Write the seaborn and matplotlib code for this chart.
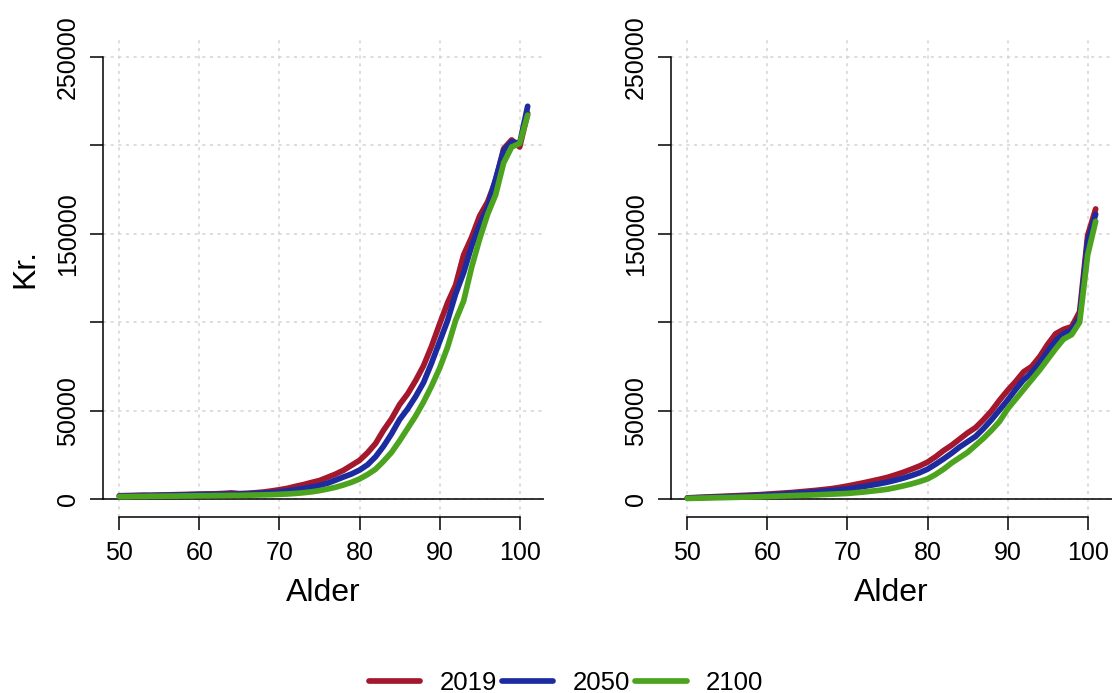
import numpy as np
import pandas as pd
import matplotlib
matplotlib.use("Agg")
import matplotlib.pyplot as plt
from matplotlib.lines import Line2D
import seaborn as sns

# ---------------- data ----------------
ages = list(range(50, 102))
years = ["2019", "2050", "2100"]
colors = ["#A3182C", "#1C2CA0", "#4CA41E"]

left_2019 = [2000, 2100, 2200, 2300, 2300, 2400, 2500, 2600, 2700, 2800,
             2900, 3000, 3100, 3300, 3600, 3200, 3400, 3700, 4100, 4700,
             5400, 6200, 7300, 8300, 9500, 10600, 12400, 14200, 16400, 19200,
             22000, 26300, 31500, 39000, 45500, 53500, 59500, 67000, 75500, 86500,
             99000, 111000, 121000, 138000, 148000, 160000, 168000, 180000, 198000, 203000,
             199000, 218000]
left_2050 = [1800, 1900, 2000, 2100, 2100, 2200, 2300, 2400, 2500, 2600,
             2700, 2800, 2800, 2900, 3000, 3000, 3100, 3300, 3500, 3800,
             4200, 4800, 5400, 6100, 6900, 7800, 9100, 10800, 12600, 14300,
             16500, 19500, 24000, 30000, 37000, 45000, 51000, 58000, 66000, 77000,
             89000, 101000, 116000, 128000, 143000, 155000, 165000, 181000, 197000, 202000,
             201000, 222000]
left_2100 = [1500, 1500, 1600, 1600, 1700, 1700, 1800, 1800, 1900, 1900,
             2000, 2000, 2100, 2100, 2200, 2200, 2300, 2400, 2500, 2600,
             2800, 3000, 3300, 3700, 4200, 4900, 5800, 6800, 8100, 9600,
             11500, 14000, 17000, 21500, 26500, 33000, 40000, 47000, 55000, 64000,
             74000, 86000, 101000, 112000, 131000, 147000, 161000, 172000, 190000, 199000,
             201000, 217000]

right_2019 = [800, 1000, 1200, 1400, 1600, 1800, 2000, 2200, 2400, 2600,
              2900, 3200, 3500, 3800, 4200, 4600, 5000, 5500, 6000, 6700,
              7500, 8400, 9300, 10300, 11300, 12400, 13800, 15300, 17000, 18800,
              21000, 24000, 27500, 30500, 34000, 37500, 40500, 45000, 50000, 56000,
              61500, 66500, 72000, 75000, 80500, 87500, 93500, 96000, 97500, 106000,
              149000, 164000]
right_2050 = [700, 850, 1000, 1150, 1300, 1450, 1600, 1800, 2000, 2200,
              2400, 2700, 3000, 3300, 3600, 3900, 4200, 4600, 5000, 5400,
              5800, 6500, 7200, 8000, 8800, 9700, 10800, 12000, 13400, 15000,
              17000, 19800, 22800, 26000, 29500, 32500, 35500, 40000, 45000, 50500,
              56000, 62000, 67500, 71500, 77000, 83500, 89500, 93500, 95500, 103000,
              146000, 161000]
right_2100 = [500, 600, 700, 800, 900, 1000, 1100, 1200, 1300, 1450,
              1600, 1750, 1900, 2050, 2200, 2350, 2500, 2700, 2900, 3100,
              3300, 3700, 4100, 4600, 5100, 5700, 6600, 7600, 8700, 10000,
              11500, 14000, 17000, 20500, 23500, 26500, 30500, 34500, 39000, 44000,
              51000, 56500, 62000, 67500, 73000, 79000, 85000, 90500, 93000, 100000,
              138000, 157000]

x_ticks = [50, 60, 70, 80, 90, 100]
y_ticks = [0, 50000, 100000, 150000, 200000, 250000]
y_tick_labels = ["0", "50000", "", "150000", "", "250000"]
x_label = "Alder"
y_label = "Kr."


def long_df(series):
    frames = []
    for yr, vals in zip(years, series):
        frames.append(pd.DataFrame({"Alder": ages, "Kr": vals, "year": yr}))
    return pd.concat(frames, ignore_index=True)


df_left = long_df([left_2019, left_2050, left_2100])
df_right = long_df([right_2019, right_2050, right_2100])

# ---------------- style ----------------
sns.set_style("white")
plt.rcParams["font.family"] = ["Liberation Sans", "DejaVu Sans"]
plt.rcParams["text.color"] = "black"

W, H = 1112, 693
fig = plt.figure(figsize=(W / 100, H / 100), dpi=100)

def px_axes(x0, x1, y_top, y_bot):
    return fig.add_axes([x0 / W, 1 - y_bot / H, (x1 - x0) / W, (y_bot - y_top) / H])

ax_l = px_axes(103, 544, 39, 517)
ax_r = px_axes(671, 1112, 39, 517)

LW = 4.1
tick_fs = 18
lab_fs = 23

for ax, df, show_ylab in [(ax_l, df_left, True), (ax_r, df_right, False)]:
    ax.set_xlim(47.96, 103.04)
    ax.set_ylim(-10000, 260000)
    # dotted grid
    for xv in x_ticks:
        ax.axvline(xv, color="#D3D3D3", lw=1.1, ls=(0, (2, 3)), zorder=0)
    for yv in y_ticks:
        ax.axhline(yv, color="#D3D3D3", lw=1.1, ls=(0, (2, 3)), zorder=0)
    ax.axhline(0, color="black", lw=1.1, zorder=1)
    sns.lineplot(data=df, x="Alder", y="Kr", hue="year", palette=colors,
                 hue_order=years, linewidth=LW, ax=ax, legend=False,
                 zorder=3)
    for ln in ax.get_lines():
        ln.set_solid_capstyle("round")
        ln.set_solid_joinstyle("round")
    for s in ["top", "right"]:
        ax.spines[s].set_visible(False)
    ax.spines["left"].set_bounds(0, 250000)
    ax.spines["bottom"].set_bounds(50, 100)
    for s in ["left", "bottom"]:
        ax.spines[s].set_color("black")
        ax.spines[s].set_linewidth(1.1)
    ax.set_xticks(x_ticks)
    ax.set_xticklabels([str(v) for v in x_ticks])
    ax.set_yticks(y_ticks)
    ax.set_yticklabels(y_tick_labels, rotation=90, va="center")
    ax.tick_params(axis="both", direction="out", length=9.5, width=1.1,
                   color="black", labelsize=tick_fs, labelcolor="black",
                   left=True, bottom=True)
    ax.tick_params(axis="x", pad=8)
    ax.tick_params(axis="y", pad=7)
    ax.set_xlabel(x_label, fontsize=lab_fs, color="black")
    ax.xaxis.set_label_coords(0.5, -0.128)
    if show_ylab:
        ax.set_ylabel(y_label, fontsize=lab_fs, color="black")
        ax.yaxis.set_label_coords(-0.143, 0.52)
    else:
        ax.set_ylabel("")
    ax.grid(False)
    ax.set_facecolor("white")

handles = [Line2D([0], [0], color=c, lw=LW, solid_capstyle="round") for c in colors]
fig.legend(handles, years, loc="center", bbox_to_anchor=(566 / W, 1 - 683 / H),
           ncol=3, frameon=False, fontsize=18.5, handlelength=2.0,
           handletextpad=0.75, columnspacing=0.2, borderpad=0.0)

fig.savefig("out.png", dpi=100, facecolor="white")
